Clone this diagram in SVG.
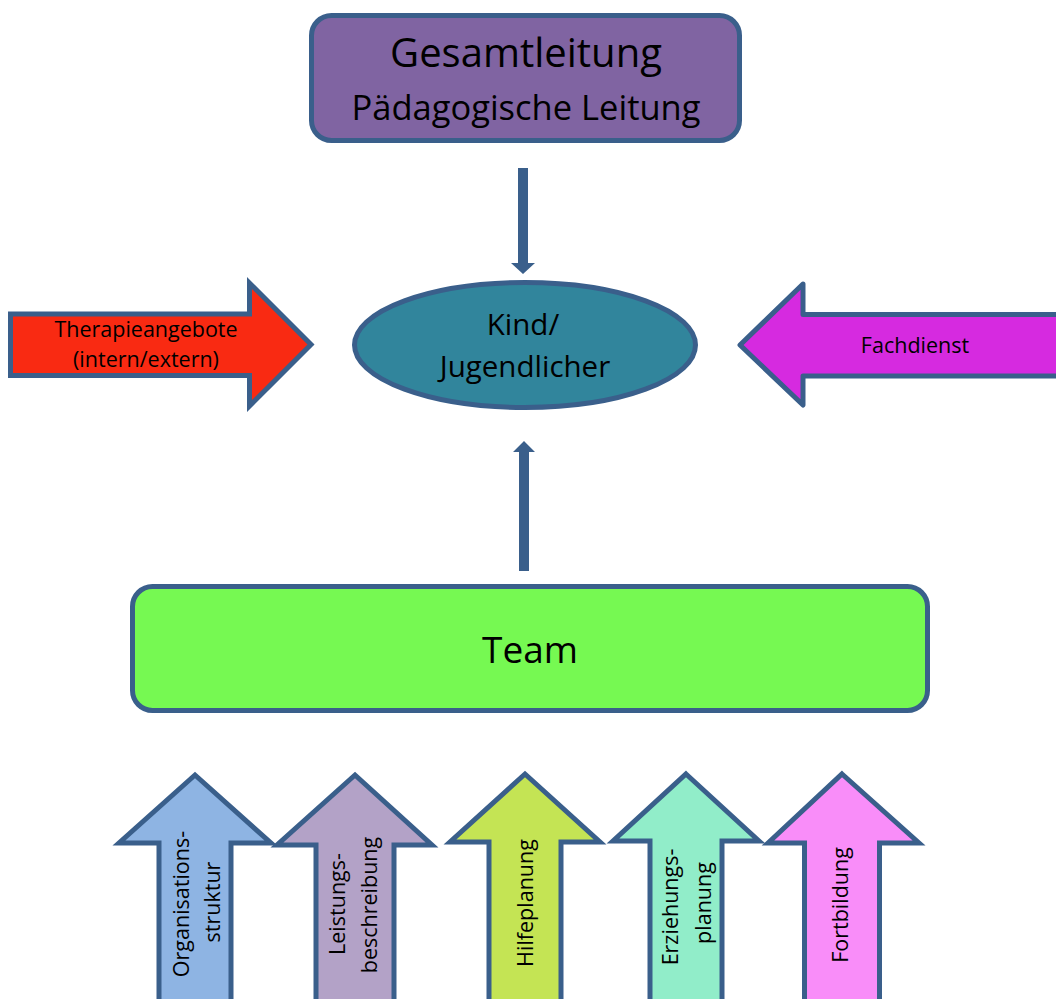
<svg xmlns="http://www.w3.org/2000/svg" width="1056" height="999" viewBox="0 0 1056 999">
<style>
text{font-family:"Open Sans","Noto Sans","DejaVu Sans",sans-serif;fill:#000;text-anchor:middle}
.sh{stroke:#3A5F8B;stroke-width:5}
.conn{fill:#3A5F8B}
.big{font-size:40px}
.sub{font-size:34.5px}
.mid{font-size:29.5px}
.team{font-size:37px}
.side{font-size:21.5px}
.vert{font-size:21.5px}
</style>
<rect width="1056" height="999" fill="#fff"/>
<g id="gesamtleitung">
<rect class="sh" x="311.5" y="15.5" width="428" height="125" rx="20" fill="#8064A2"/>
<text class="big" x="526" y="67">Gesamtleitung</text>
<text class="sub" x="526" y="120">Pädagogische Leitung</text>
</g>
<g id="kind">
<ellipse class="sh" cx="525" cy="345" rx="170.5" ry="62.5" fill="#31859C"/>
<text class="mid" x="523" y="335">Kind/</text>
<text class="mid" x="525" y="377">Jugendlicher</text>
</g>
<g id="therapie">
<polygon class="sh" points="10.5,314 249.5,314 249.5,283 311,344.5 249.5,406 249.5,375.5 10.5,375.5" fill="#F92A12" stroke-linejoin="miter"/>
<text class="side" x="146" y="337">Therapieangebote</text>
<text class="side" x="146" y="367">(intern/extern)</text>
</g>
<g id="fachdienst">
<polygon class="sh" points="1070,314.5 803,314.5 803,284 740,345 803,405 803,376 1070,376" fill="#D62AE0" stroke-linejoin="round"/>
<text class="side" x="915" y="353">Fachdienst</text>
</g>
<g id="team">
<rect class="sh" x="132.5" y="586.5" width="795" height="124" rx="20" fill="#76F952"/>
<text class="team" x="530" y="663">Team</text>
</g>
<g id="organisationsstruktur">
<polygon class="sh" points="195,775 271,843 231,843 231,1010 159,1010 159,843 119,843" fill="#8EB4E3"/>
<text class="vert" transform="translate(189,904) rotate(-90)">Organisations-</text>
<text class="vert" transform="translate(220,902) rotate(-90)">struktur</text>
</g>
<g id="leistungsbeschreibung">
<polygon class="sh" points="355,775 432,845 394,845 394,1010 316,1010 316,845 277,845" fill="#B3A2C7"/>
<text class="vert" transform="translate(345,904) rotate(-90)">Leistungs-</text>
<text class="vert" transform="translate(377,905) rotate(-90)">beschreibung</text>
</g>
<g id="hilfeplanung">
<polygon class="sh" points="525,774 600,842 561,842 561,1010 489,1010 489,842 450,842" fill="#C4E454"/>
<text class="vert" transform="translate(533,903) rotate(-90)">Hilfeplanung</text>
</g>
<g id="erziehungsplanung">
<polygon class="sh" points="686,774 759,841 722,841 722,1010 650,1010 650,841 613,841" fill="#91EDC9"/>
<text class="vert" transform="translate(678,907) rotate(-90)">Erziehungs-</text>
<text class="vert" transform="translate(711,903) rotate(-90)">planung</text>
</g>
<g id="fortbildung">
<polygon class="sh" points="842,774 919,843 879.5,843 879.5,1010 804.5,1010 804.5,843 768,843" fill="#F98DF9"/>
<text class="vert" transform="translate(848,905) rotate(-90)">Fortbildung</text>
</g>
<g id="connectors">
<polygon class="conn" points="518,168 528,168 528,263 535,263 523,274 511,263 518,263"/>
<polygon class="conn" points="519,571 529,571 529,452 535,452 524,441 513,452 519,452"/>
</g>
</svg>
